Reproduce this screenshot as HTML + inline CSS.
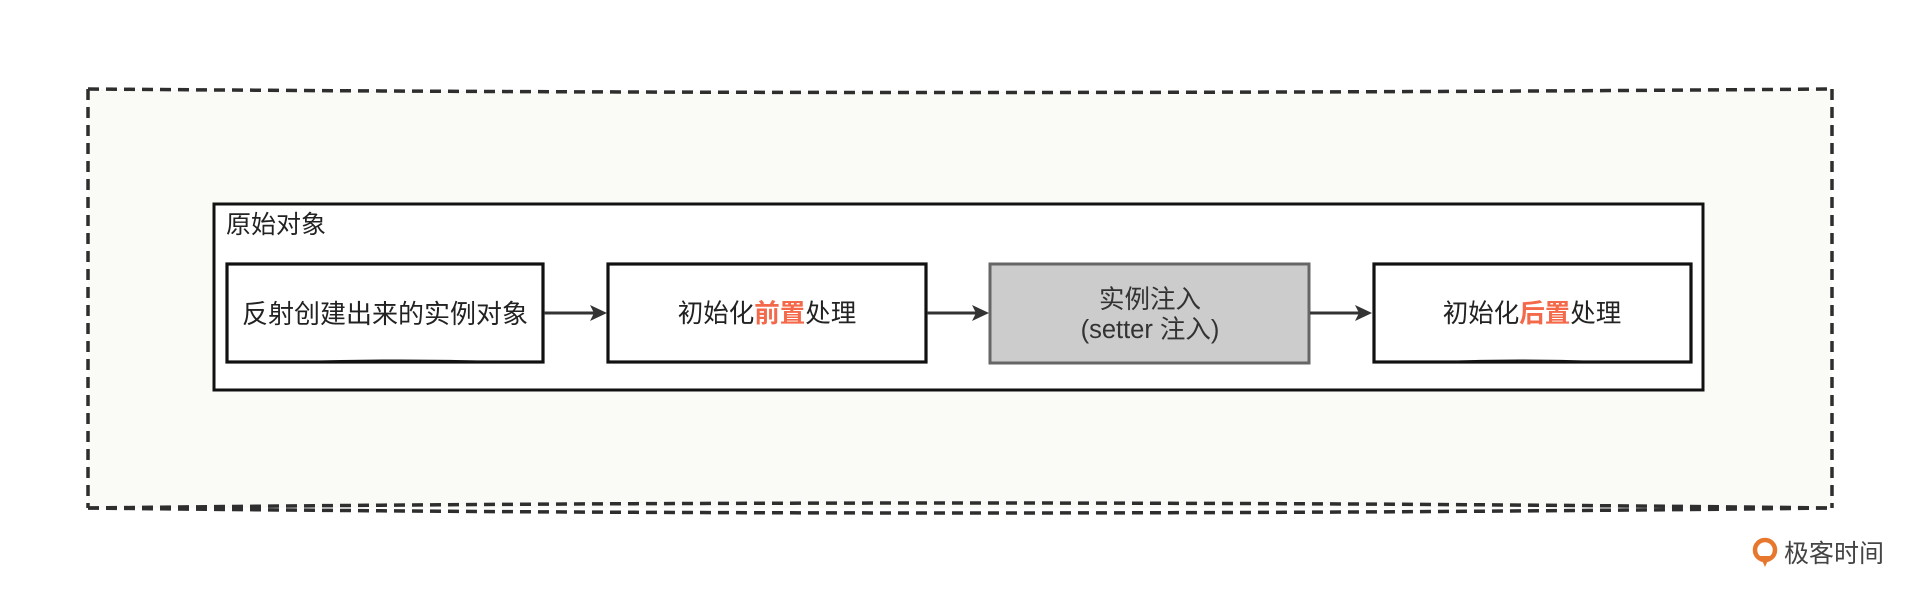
<!DOCTYPE html>
<html>
<head>
<meta charset="utf-8">
<style>
  html,body{margin:0;padding:0;background:#ffffff;}
  body{width:1920px;height:596px;overflow:hidden;}
  svg{display:block;}
  text{font-family:"Liberation Sans","Noto Sans CJK SC","WenQuanYi Zen Hei",sans-serif;}
</style>
</head>
<body>
<svg width="1920" height="596" viewBox="0 0 1920 596" xmlns="http://www.w3.org/2000/svg">
  <!-- outer dashed area fill -->
  <path d="M88 89 Q960 95 1832 89 L1832 508 L88 508 Z" fill="#fafaf7"/>
  <!-- outer dashed border -->
  <g fill="none" stroke="#2e2e2e" stroke-width="3.5" stroke-dasharray="11 7">
    <path d="M88 89 Q960 96 1832 89"/>
    <path d="M88 89 L88 508"/>
    <path d="M1832 89 L1832 508"/>
    <path d="M88 508 Q960 498 1832 508"/>
    <path d="M88 508 Q960 518 1832 508"/>
  </g>

  <!-- container -->
  <rect x="214" y="204" width="1489" height="186" fill="#ffffff" stroke="#111" stroke-width="3"/>
  <text x="226" y="225" font-size="25" fill="#222" dominant-baseline="central">原始对象</text>

  <!-- box 1 -->
  <rect x="227" y="264" width="316" height="98" fill="#ffffff" stroke="#111" stroke-width="3.2"/>
  <path d="M300 362 Q400 359 500 362" fill="none" stroke="#111" stroke-width="2"/>
  <text x="385" y="314" font-size="26" fill="#222" text-anchor="middle" dominant-baseline="central">反射创建出来的实例对象</text>

  <!-- box 2 -->
  <rect x="608" y="264" width="318" height="98" fill="#ffffff" stroke="#111" stroke-width="3.2"/>
  <text x="767" y="314" font-size="25.5" fill="#222" text-anchor="middle" dominant-baseline="central">初始化<tspan fill="#f4694a" font-weight="bold">前置</tspan>处理</text>

  <!-- box 3 -->
  <rect x="990" y="264" width="319" height="99" fill="#cccccc" stroke="#666" stroke-width="3"/>
  <text x="1150" y="300" font-size="25.5" fill="#333" text-anchor="middle" dominant-baseline="central">实例注入</text>
  <text x="1150" y="330" font-size="25.5" fill="#333" text-anchor="middle" dominant-baseline="central">(setter 注入)</text>

  <!-- box 4 -->
  <rect x="1374" y="264" width="317" height="98" fill="#ffffff" stroke="#111" stroke-width="3.2"/>
  <path d="M1440 362 Q1520 359 1600 362" fill="none" stroke="#111" stroke-width="2"/>
  <text x="1532" y="314" font-size="25.5" fill="#222" text-anchor="middle" dominant-baseline="central">初始化<tspan fill="#f4694a" font-weight="bold">后置</tspan>处理</text>

  <!-- arrows -->
  <g stroke="#333" stroke-width="3" fill="none">
    <line x1="544" y1="313" x2="596" y2="313"/>
    <line x1="927" y1="313" x2="978" y2="313"/>
    <line x1="1310" y1="313" x2="1361" y2="313"/>
  </g>
  <g fill="#333">
    <path d="M607 313 L590 305 L594 313 L590 321 Z"/>
    <path d="M989 313 L972 305 L976 313 L972 321 Z"/>
    <path d="M1372 313 L1355 305 L1359 313 L1355 321 Z"/>
  </g>

  <!-- logo -->
  <circle cx="1765" cy="550" r="10" fill="none" stroke="#e8772e" stroke-width="4.5"/>
  <path d="M1760 556 L1765 567 L1770 556 Z" fill="#e8772e"/>
  <text x="1784" y="554" font-size="25" fill="#444" dominant-baseline="central">极客时间</text>
</svg>
</body>
</html>
